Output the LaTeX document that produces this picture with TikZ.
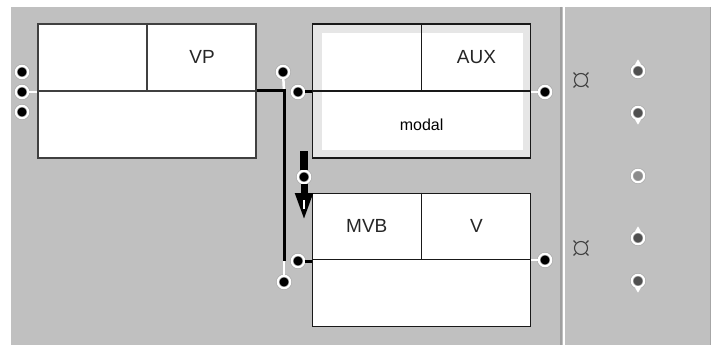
\documentclass[tikz,border=0pt]{standalone}
\usepackage{fontspec}
\setmainfont{Liberation Sans}
\usetikzlibrary{calc,arrows.meta,positioning}
\usepackage{xcolor}
\definecolor{panelgray}{HTML}{C0C0C0}
\definecolor{frameline}{HTML}{404040}
\definecolor{bandgray}{HTML}{E6E6E6}
\definecolor{knobgray}{HTML}{505050}

\begin{document}
\begin{tikzpicture}[x=1pt,y=-1pt,
  unit/.style={rectangle,minimum width=218pt,minimum height=134pt,inner sep=0pt,
    fill=white,draw=black!90,line width=1.2pt},
  port/.style={circle,fill=black,draw=gray!65,line width=0.7pt,double=white,
    double distance=2pt,minimum size=12.5pt,inner sep=0pt},
  knob/.style={port,fill=knobgray},
  tag/.style={font=\fontsize{19}{19}\selectfont,text=black!85},
  wire/.style={line width=3pt,black},
  stub/.style={line width=2.5pt,white},
  push/.style={line width=7pt,black,-{Triangle[width=16pt,length=28pt]}},
  lock/.style={circle,draw=frameline,line width=1.1pt,minimum size=13pt,inner sep=0pt}
]
  \useasboundingbox (0,0) rectangle (718,345);
  \fill[panelgray] (11,7) rectangle (710,345);
  \draw[gray!70,line width=1pt] (710,7) -- (710,345);
  % panel divider
  \draw[gray!75,line width=2pt] (561,7) -- (561,345);
  \draw[white,line width=1.5pt] (564,7) -- (564,345);

  % the three units
  \node[unit,draw=frameline,line width=2pt] (vp) at (147,91) {};
  \node[unit,fill=bandgray,right=55pt of vp,
    path picture={\fill[white] ([shift={(9pt,-9pt)}]path picture bounding box.north west)
      rectangle ([shift={(-8pt,8pt)}]path picture bounding box.south east);}] (aux) {};
  \node[unit,minimum height=133pt,below=34pt of aux] (mvb) {};
  \draw[frameline,line width=1.3pt] (vp.west) -- (vp.east) (vp.north) -- (vp.center);
  \foreach \u in {aux,mvb}
    \draw[black!90,line width=1.1pt] (\u.west) -- (\u.east) (\u.north) -- (\u.center);

  \node[tag] at ($(vp.north east)!0.5!(vp.center)$) {VP};
  \node[tag] at ($(aux.north east)!0.5!(aux.center)$) {AUX};
  \node[font=\fontsize{16}{16}\selectfont] at ($(aux.center)!0.5!(aux.south)$) {modal};
  \node[tag] at ($(mvb.north west)!0.5!(mvb.center)$) {MVB};
  \node[tag] at ($(mvb.north east)!0.5!(mvb.center)$) {V};

  % ports
  \foreach \y/\n in {72/A,92/B,112/C}
    \node[port] (vpin\n) at (22,\y) {};
  \node[port] (vpup) at (283,72) {};
  \node[port] (auxin) at (298,92) {};
  \node[port] (mvbin) at (298,261) {};
  \node[port] (mvblow) at (284,282) {};
  \node[port] (auxdown) at (304,177) {};
  \node[port] (auxout) at (545,92) {};
  \node[port] (mvbout) at (545,260) {};
  \coordinate (split) at (284,91);
  \coordinate (bend) at (284,261);
  \coordinate (barTop) at (304,151);
  \coordinate (barTip) at (304,221);

  % connectors
  \draw[stub] (vpinB) -- (vpinB -| vp.west);
  \draw[stub] (auxout) -- (auxout -| aux.east);
  \draw[stub] (mvbout) -- (mvbout -| mvb.east);
  \draw[stub] (vpup) -- (split);
  \draw[stub] (bend) -- (mvblow);
  \draw[wire] (vp.east) -| (bend);
  \draw[wire] (auxin) -- (auxin -| aux.west);
  \draw[wire] (mvbin) -- (mvbin -| mvb.west);
  \draw[line width=8pt] (barTop) -- (auxdown);
  \draw[push] (auxdown) -- (barTip);
  \draw[white,line width=1.5pt] ($(barTip)+(0,-21)$) -- ++(0,9);

  % right panel
  \foreach \y/\n in {80/lockA,248/lockB} {
    \node[lock] (\n) at (581,\y) {};
    \foreach \a in {45,135,225,315}
      \draw[frameline,line width=1.1pt] (\n.\a) -- ($(\n.center)!1.5!(\n.\a)$);
  }
  \foreach \y/\n in {71/kA,238/kC} {
    \node[knob] (\n) at (638,\y) {};
    \fill[white] (\n.north) ++(0,-5) -- ++(3,5) -- ++(-6,0) -- cycle;
  }
  \foreach \y/\n in {113/kB,281/kD} {
    \node[knob] (\n) at (638,\y) {};
    \fill[white] (\n.south) ++(0,5) -- ++(3,-5) -- ++(-6,0) -- cycle;
  }
  \node[knob,fill=black!45] (kM) at (638,176) {};
\end{tikzpicture}
\end{document}
